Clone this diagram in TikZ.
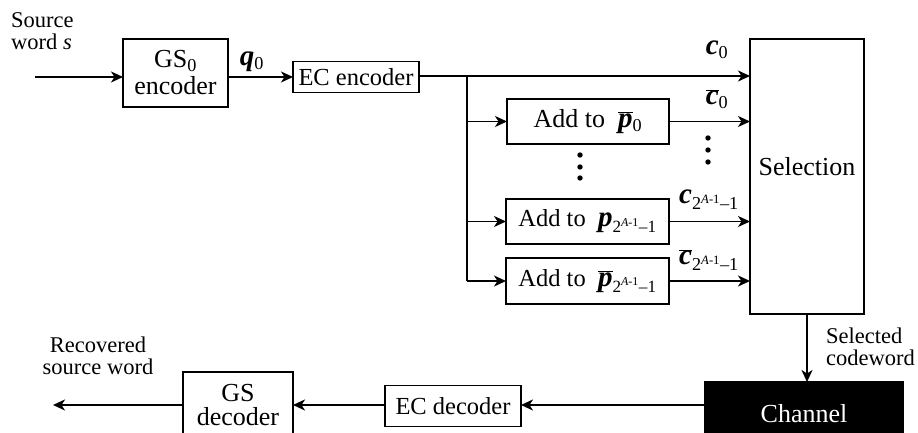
\documentclass[tikz,border=0pt]{standalone}
\usepackage{fontspec}
\setmainfont{Liberation Serif}
\usetikzlibrary{arrows.meta}
\newcommand{\bv}[1]{{\fontsize{29}{24}\selectfont\textbf{\textit{#1}}}}
\newcommand{\ob}[1]{$\overline{\mbox{#1}}$}
\newcommand{\idx}{\textsubscript{2\textsuperscript{\textit{A}-1}\textendash1}}
\begin{document}
\begin{tikzpicture}[x=1pt,y=-1pt,
  box/.style={draw, line width=1.8pt, inner sep=0pt, outer sep=0pt, align=center},
  arr/.style={-{Stealth[length=12pt,width=11pt,inset=3.5pt]}, line width=1.8pt},
  ln/.style={line width=1.8pt},
  lbl/.style={inner sep=0pt, align=center},
  small/.style={font=\fontsize{22.5}{22}\selectfont},
  mid/.style={font=\fontsize{24.5}{24}\selectfont},
  font=\fontsize{26}{24}\selectfont]
\useasboundingbox (0,0) rectangle (918,433);
\clip (0,0) rectangle (918,433);
% top row
\node[lbl, small, align=left, anchor=north west] (src) at (11,12) {Source\\word \textit{s}};
\node[box, minimum width=105pt, minimum height=68pt] (gs) at (175.5,73) {GS\textsubscript{0}\\[3pt]encoder};
\node[box, mid, minimum width=126pt, minimum height=31pt] (ec) at (356,77) {EC encoder};
\node[lbl] (q0) at (252,62) {\bv{q}\textsubscript{0}};
\coordinate (in) at (35,77);
\draw[arr] (in) -- (gs.west |- in);
\draw[arr] (gs.east |- in) -- (ec.west |- in);
% selection
\node[box, minimum width=114pt, minimum height=275pt] (sel) at (807,176.5) {};
\node[lbl] (seltxt) at (807,167) {Selection};
% add boxes
\node[box, minimum width=162pt, minimum height=45pt] (a0) at (588,121.5) {Add to\ \ \ob{\bv{p}}\textsubscript{0}};
\node[box, mid, minimum width=163pt, minimum height=45pt] (a1) at (587.5,221.5) {Add to\ \ \bv{p}\idx};
\node[box, mid, minimum width=163pt, minimum height=46pt] (a2) at (587.5,281) {Add to\ \ \ob{\bv{p}}\idx};
% branching
\coordinate (m) at (467,76);
\draw[ln] (ec.east |- m) -- (m);
\draw[arr] (m) -- (sel.west |- m);
\draw[ln] (m) -- (m |- a2.west);
\draw[arr] (m |- a0.west) -- (a0.west);
\draw[arr] (m |- a1.west) -- (a1.west);
\draw[arr] (m |- a2.west) -- (a2.west);
\draw[arr] (a0.east) -- (sel.west |- a0.east);
\draw[arr] (a1.east) -- (sel.west |- a1.east);
\draw[arr] (a2.east) -- (sel.west |- a2.east);
% labels
\node[lbl] (lc0) at (717,50) {\bv{c}\textsubscript{0}};
\node[lbl] (lcb0) at (717,99) {\ob{\bv{c}}\textsubscript{0}};
\node[lbl] (lc1) at (709,200) {\bv{c}\idx};
\node[lbl] (lcb1) at (709,260) {\ob{\bv{c}}\idx};
\foreach \y in {138,150,162} \fill (708,\y) circle (2.7pt);
\foreach \y in {155,167,178} \fill (580,\y) circle (2.7pt);
% bottom row
\node[box, fill=black, text=white, minimum width=198pt, minimum height=63pt] (ch) at (804,413.5) {Channel};
\draw[arr] (sel.south) -- (sel.south |- ch.north);
\node[lbl, small, align=left, anchor=west] (selcw) at (826,347) {Selected\\codeword};
\node[box, mid, minimum width=136pt, minimum height=41pt] (ecd) at (453,406) {EC decoder};
\node[box, minimum width=110pt, minimum height=66pt] (gsd) at (238,405) {GS\\decoder};
\node[lbl, small] (rec) at (98,356) {Recovered\\source word};
\coordinate (out) at (53,405);
\draw[arr] (ch.west |- out) -- (ecd.east |- out);
\draw[arr] (ecd.west |- out) -- (gsd.east |- out);
\draw[arr] (gsd.west |- out) -- (out);
\end{tikzpicture}
\end{document}
